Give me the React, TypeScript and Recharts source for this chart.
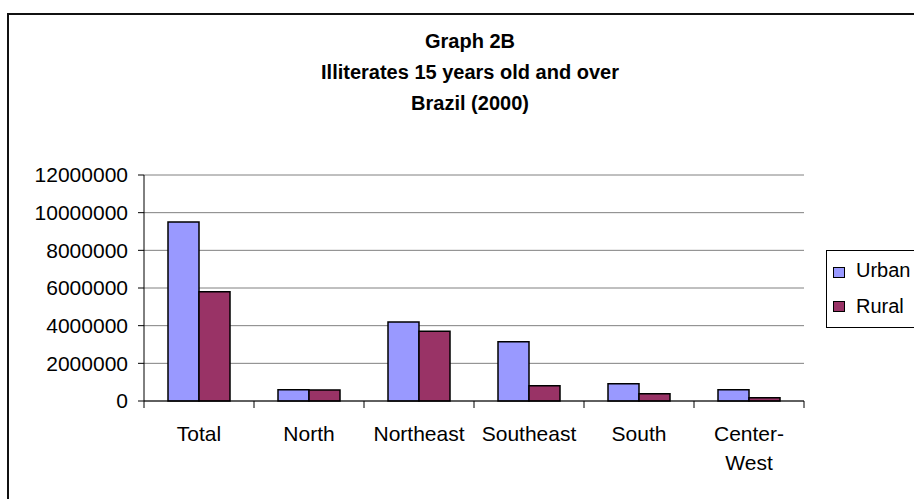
import React from 'react';
import { BarChart, Bar, XAxis, YAxis, CartesianGrid, Legend } from 'recharts';

const categories = ['Total', 'North', 'Northeast', 'Southeast', 'South', 'Center-West'];
const urban = [9500000, 600000, 4200000, 3150000, 920000, 600000];
const rural = [5800000, 590000, 3700000, 810000, 390000, 170000];
const yTicks = [0, 2000000, 4000000, 6000000, 8000000, 10000000, 12000000];
const titleLines = ['Graph 2B', 'Illiterates 15 years old and over', 'Brazil (2000)'];

const data = categories.map((name, i) => ({ name, Urban: urban[i], Rural: rural[i] }));

const W = 914;
const H = 499;
const M = { top: 175, right: 110, bottom: 0, left: 0 };
const Y_W = 144;
const PLOT_W = W - M.right - Y_W;
const BAND = PLOT_W / categories.length;
const FONT = '"Liberation Sans", Arial, sans-serif';
const TICK_SIZE = 6;
const TICK_MARGIN = 19;
const AXIS_FONT = 21;

const XTick = (props: any) => {
  const { x, y, payload, index } = props;
  const axisY = y - TICK_SIZE - TICK_MARGIN;
  const half = BAND / 2;
  const value: string = String(payload.value);
  let lines = [value];
  const h = value.indexOf('-');
  if (h > 0) lines = [value.slice(0, h + 1), value.slice(h + 1)];
  return (
    <g>
      <line x1={x - half} x2={x - half} y1={axisY} y2={axisY + TICK_SIZE + 1} stroke="#000" strokeWidth={1} />
      {index === categories.length - 1 && (
        <line x1={x + half} x2={x + half} y1={axisY} y2={axisY + TICK_SIZE + 1} stroke="#000" strokeWidth={1} />
      )}
      <text x={x} y={y} textAnchor="middle" fill="#000" fontSize={AXIS_FONT} fontFamily={FONT}>
        {lines.map((l, i) => (
          <tspan key={i} x={x} dy={i === 0 ? '0.71em' : 29.5}>
            {l}
          </tspan>
        ))}
      </text>
    </g>
  );
};

const LegendContent = () => {
  const items = [
    { name: 'Urban', color: '#9999FF' },
    { name: 'Rural', color: '#993366' },
  ];
  return (
    <div style={{ position: 'relative', width: 100, height: 78, border: '1px solid #000', boxSizing: 'border-box', background: '#fff', fontFamily: FONT }}>
      {items.map((it, i) => (
        <React.Fragment key={it.name}>
          <div
            style={{
              position: 'absolute',
              left: 6,
              top: 16 + i * 34,
              width: 12,
              height: 11,
              background: it.color,
              border: '1.5px solid #000',
              boxSizing: 'border-box',
            }}
          />
          <span
            style={{
              position: 'absolute',
              left: 29,
              top: 9 + i * 36,
              fontSize: 20,
              lineHeight: '20px',
              color: '#000',
              whiteSpace: 'nowrap',
            }}
          >
            {it.name}
          </span>
        </React.Fragment>
      ))}
    </div>
  );
};

export default function App() {
  return (
    <div style={{ position: 'fixed', left: 0, top: 0, width: W, height: H, overflow: 'hidden', background: '#fff', fontFamily: FONT }}>
      <div
        style={{
          position: 'absolute',
          left: 7,
          top: 13,
          width: 1200,
          height: 1200,
          borderLeft: '2px solid #111',
          borderTop: '2px solid #111',
        }}
      />
      <div
        style={{
          position: 'absolute',
          left: 0,
          top: 26,
          width: 940,
          textAlign: 'center',
          fontWeight: 'bold',
          fontSize: 20,
          lineHeight: '31px',
          color: '#000',
        }}
      >
        {titleLines.map((t) => (
          <div key={t}>{t}</div>
        ))}
      </div>
      <div style={{ position: 'absolute', left: 0, top: 0 }}>
        <BarChart width={W} height={H} data={data} margin={M} barCategoryGap={24} barGap={0} style={{ fontFamily: FONT }}>
          <CartesianGrid vertical={false} stroke="#808080" strokeWidth={1} />
          <XAxis
            dataKey="name"
            height={H - M.top - 226}
            tickLine={false}
            axisLine={{ stroke: '#000', strokeWidth: 1 }}
            tickSize={TICK_SIZE}
            tickMargin={TICK_MARGIN}
            tick={<XTick />}
            interval={0}
          />
          <YAxis
            width={Y_W}
            domain={[0, 12000000]}
            ticks={yTicks}
            interval={0}
            tickSize={6}
            tickMargin={10}
            tickLine={{ stroke: '#000' }}
            axisLine={{ stroke: '#000' }}
            tick={{ fill: '#000', fontSize: AXIS_FONT, fontFamily: FONT }}
          />
          <YAxis yAxisId="r" orientation="right" width={0} tick={false} tickLine={false} axisLine={{ stroke: '#808080' }} />
          <Legend
            layout="vertical"
            align="center"
            verticalAlign="middle"
            content={<LegendContent />}
            wrapperStyle={{ left: 826, top: 250, width: 100, height: 78 }}
          />
          <Bar dataKey="Urban" fill="#9999FF" stroke="#000" strokeWidth={1.5} isAnimationActive={false} />
          <Bar dataKey="Rural" fill="#993366" stroke="#000" strokeWidth={1.5} isAnimationActive={false} />
        </BarChart>
      </div>
    </div>
  );
}
